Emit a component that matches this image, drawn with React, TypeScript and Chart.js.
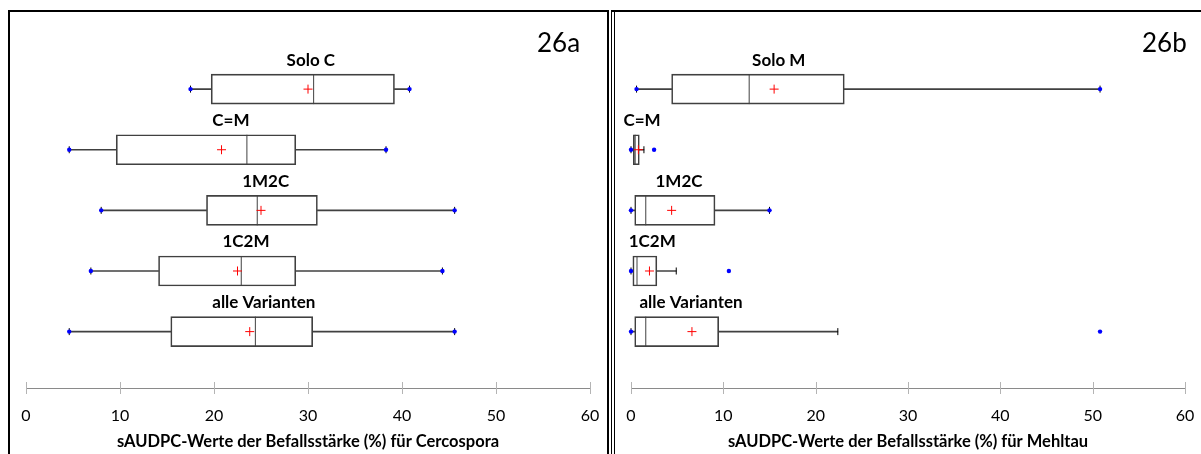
import React, { useEffect, useRef } from "react";
import { Chart, registerables } from "chart.js";

Chart.register(...registerables);

const FONT = "Lato, 'Noto Sans', sans-serif";

// ---- Panel 26a: Cercospora ----
const cCategories = ["Solo C", "C=M", "1M2C", "1C2M", "alle Varianten"];
const cLabelX = [30.3, 21.8, 25.5, 23.4, 25.3];
const cMin = [17.5, 4.6, 8.0, 6.9, 4.6];
const cWhiskLow = [17.5, 4.6, 8.0, 6.9, 4.6];
const cQ1 = [19.7, 9.6, 19.2, 14.1, 15.4];
const cMed = [30.6, 23.5, 24.6, 22.9, 24.4];
const cQ3 = [39.2, 28.7, 31.0, 28.7, 30.5];
const cWhiskHigh = [40.8, 38.3, 45.6, 44.3, 45.6];
const cMax = [40.8, 38.3, 45.6, 44.3, 45.6];
const cMean = [30.0, 20.8, 25.0, 22.5, 23.8];

// ---- Panel 26b: Mehltau ----
const mCategories = ["Solo M", "C=M", "1M2C", "1C2M", "alle Varianten"];
const mLabelX = [16.0, 1.2, 5.2, 2.3, 6.5];
const mMin = [0.6, 0, 0, 0, 0];
const mWhiskLow = [0.6, 0, 0, 0, 0];
const mQ1 = [4.4, 0.25, 0.4, 0.2, 0.4];
const mMed = [12.8, 0.45, 1.6, 0.65, 1.6];
const mQ3 = [23.1, 0.9, 9.1, 2.8, 9.5];
const mWhiskHigh = [50.8, 1.4, 15.0, 4.9, 22.4];
const mMax = [50.8, 2.5, 15.0, 10.6, 50.8];
const mMean = [15.5, 0.8, 4.4, 2.0, 6.6];

const xTicks = [0, 10, 20, 30, 40, 50, 60];

type PanelProps = {
  categories: string[];
  labelX: number[];
  min: number[];
  whiskLow: number[];
  q1: number[];
  med: number[];
  q3: number[];
  whiskHigh: number[];
  max: number[];
  mean: number[];
  title: string;
  width: number;
  height: number;
  padLeft: number;
  padRight: number;
};

function BoxPanel(props: PanelProps) {
  const ref = useRef<HTMLCanvasElement | null>(null);
  useEffect(() => {
    if (!ref.current) return;
    const idx = props.categories.map((_, i) => i + 1);
    const pts = (arr: number[]) => arr.map((v, i) => ({ x: v, y: idx[i] }));
    const BOX = "#404040";

    const overlay = {
      id: "overlay",
      afterDraw(chart: any) {
        const ctx = chart.ctx;
        const xs = chart.scales.x;
        const ys = chart.scales.y;
        const bottom = chart.chartArea.bottom;
        ctx.save();
        ctx.strokeStyle = "#b4b4b4";
        ctx.lineWidth = 1;
        xTicks.forEach((t) => {
          const px = Math.round(xs.getPixelForValue(t)) + 0.5;
          ctx.beginPath();
          ctx.moveTo(px, bottom - 6);
          ctx.lineTo(px, bottom + 6);
          ctx.stroke();
        });
        ctx.fillStyle = "#000";
        ctx.font = `bold 17px ${FONT}`;
        ctx.textAlign = "center";
        ctx.textBaseline = "middle";
        props.categories.forEach((c, i) => {
          ctx.fillText(
            c,
            xs.getPixelForValue(props.labelX[i]),
            ys.getPixelForValue(idx[i]) - 29
          );
        });
        ctx.restore();
      },
    };

    const chart = new Chart(ref.current, {
      type: "bar",
      data: {
        datasets: [
          {
            type: "scatter",
            data: pts(props.mean),
            pointStyle: "cross",
            radius: 4.5,
            borderColor: "#ff0000",
            borderWidth: 1,
            clip: false,
          } as any,
          {
            type: "scatter",
            data: pts(props.min).concat(pts(props.max)),
            pointStyle: "circle",
            radius: 2.2,
            backgroundColor: "#0000ff",
            borderColor: "#0000ff",
            borderWidth: 0,
            clip: false,
          } as any,
          {
            type: "scatter",
            data: pts(props.whiskLow).concat(pts(props.whiskHigh)),
            pointStyle: "line",
            rotation: 90,
            radius: 3.5,
            borderColor: "#000",
            borderWidth: 1,
            clip: false,
          } as any,
          {
            type: "scatter",
            data: pts(props.med),
            pointStyle: "line",
            rotation: 90,
            radius: 15,
            borderColor: BOX,
            borderWidth: 1,
            clip: false,
          } as any,
          {
            type: "bar",
            indexAxis: "y",
            grouped: false,
            barThickness: 1,
            backgroundColor: BOX,
            borderWidth: 0,
            data: idx.map((k, i) => ({ y: k, x: [props.whiskLow[i], props.q1[i]] })),
          } as any,
          {
            type: "bar",
            indexAxis: "y",
            grouped: false,
            barThickness: 1,
            backgroundColor: BOX,
            borderWidth: 0,
            data: idx.map((k, i) => ({ y: k, x: [props.q3[i], props.whiskHigh[i]] })),
          } as any,
          {
            type: "bar",
            indexAxis: "y",
            grouped: false,
            barThickness: 30,
            backgroundColor: "rgba(255,255,255,0)",
            borderColor: BOX,
            borderWidth: 1,
            borderSkipped: false,
            data: idx.map((k, i) => ({ y: k, x: [props.q1[i], props.q3[i]] })),
          } as any,
        ],
      },
      options: {
        animation: false,
        responsive: false,
        devicePixelRatio: 1,
        layout: {
          padding: { top: 16.5, left: props.padLeft, right: props.padRight, bottom: 0 },
        },
        plugins: {
          legend: { display: false },
          tooltip: { enabled: false },
        },
        scales: {
          x: {
            type: "linear",
            position: "bottom",
            offset: false,
            min: 0,
            max: 60,
            afterBuildTicks: (scale: any) => {
              scale.ticks = xTicks.map((v) => ({ value: v }));
            },
            afterFit: (scale: any) => {
              scale.paddingLeft = 0;
              scale.paddingRight = 0;
            },
            ticks: {
              color: "#000",
              font: { family: FONT, size: 16 },
              padding: 3,
              maxRotation: 0,
            },
            grid: {
              display: true,
              drawOnChartArea: false,
              drawTicks: true,
              tickLength: 15,
              tickColor: "rgba(0,0,0,0)",
              offset: false,
            },
            border: { display: true, color: "#8a8a8a", width: 1 },
            title: {
              display: true,
              text: props.title,
              color: "#000",
              font: { family: FONT, size: 16.5, weight: "bold" },
              padding: { top: 4, bottom: 2 },
            },
          },
          y: {
            type: "linear",
            display: false,
            offset: false,
            min: 0,
            max: 5.93,
            reverse: true,
          },
        },
      } as any,
      plugins: [overlay],
    });
    return () => chart.destroy();
  }, []);
  return <canvas ref={ref} width={props.width} height={props.height} />;
}

export default function App() {
  return (
    <div
      style={{
        position: "fixed",
        left: 0,
        top: 0,
        width: 1201,
        height: 454,
        background: "#fff",
        overflow: "hidden",
        fontFamily: FONT,
      }}
    >
      {/* left panel frame */}
      <div
        style={{
          position: "absolute",
          left: 8,
          top: 10,
          width: 601,
          height: 500,
          boxSizing: "border-box",
          border: "2px solid #000",
        }}
      />
      {/* right panel frame (double left rule) */}
      <div
        style={{
          position: "absolute",
          left: 611,
          top: 10,
          width: 700,
          height: 500,
          boxSizing: "border-box",
          borderTop: "2px solid #000",
          borderLeft: "1px solid #000",
        }}
      />
      <div
        style={{
          position: "absolute",
          left: 614,
          top: 12,
          width: 1,
          height: 500,
          background: "#000",
        }}
      />
      <div style={{ position: "absolute", left: 10, top: 12 }}>
        <BoxPanel
          categories={cCategories}
          labelX={cLabelX}
          min={cMin}
          whiskLow={cWhiskLow}
          q1={cQ1}
          med={cMed}
          q3={cQ3}
          whiskHigh={cWhiskHigh}
          max={cMax}
          mean={cMean}
          title="sAUDPC-Werte der Befallsstärke (%) für Cercospora"
          width={596}
          height={442}
          padLeft={12}
          padRight={15}
        />
      </div>
      <div style={{ position: "absolute", left: 615, top: 12 }}>
        <BoxPanel
          categories={mCategories}
          labelX={mLabelX}
          min={mMin}
          whiskLow={mWhiskLow}
          q1={mQ1}
          med={mMed}
          q3={mQ3}
          whiskHigh={mWhiskHigh}
          max={mMax}
          mean={mMean}
          title="sAUDPC-Werte der Befallsstärke (%) für Mehltau"
          width={586}
          height={442}
          padLeft={16}
          padRight={12}
        />
      </div>
      <div
        style={{
          position: "absolute",
          left: 537,
          top: 27,
          fontSize: 26,
          lineHeight: "30px",
          color: "#000",
        }}
      >
        26a
      </div>
      <div
        style={{
          position: "absolute",
          left: 1142,
          top: 27,
          fontSize: 26,
          lineHeight: "30px",
          color: "#000",
        }}
      >
        26b
      </div>
    </div>
  );
}
